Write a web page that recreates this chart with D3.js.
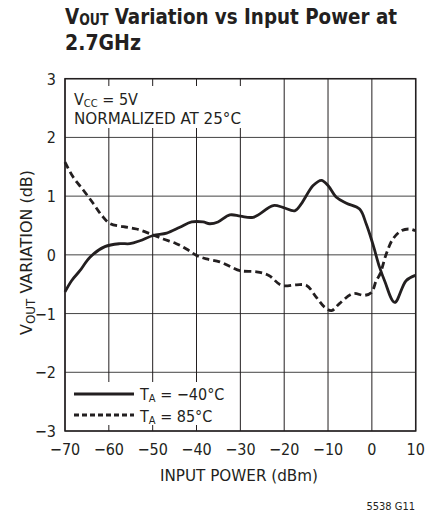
<!DOCTYPE html>
<html>
<head>
<meta charset="utf-8">
<script src="https://cdn.jsdelivr.net/npm/d3@7"></script>
<style>
  body { margin: 0; background: #fff; }
  svg text { font-family: "Liberation Sans Narrow", "DejaVu Sans Condensed", "Liberation Sans", sans-serif; fill: #231f20; }
</style>
</head>
<body>
<svg id="chart" width="425" height="518"></svg>
<script>
// tick labels
var xTicks = [-70, -60, -50, -40, -30, -20, -10, 0, 10];
var yTicks = [-3, -2, -1, 0, 1, 2, 3];

// TA = -40°C (solid)
var coldPower = [-70, -68.5, -66.6, -64.3, -60.9, -57.5, -55.2, -52.9, -49.9, -46.8, -43.8, -41.1, -38.5, -37, -35.1, -32.4, -30, -27.1, -22.5, -20.3, -17.6, -16.1, -13.4, -11.5, -10, -8.1, -5.8, -2.8, -1.3, 0.2, 1.75, 2.9, 5.2, 7.8, 9.9];
var coldVar   = [-0.63, -0.44, -0.27, -0.04, 0.14, 0.19, 0.19, 0.24, 0.33, 0.37, 0.47, 0.56, 0.56, 0.53, 0.56, 0.68, 0.66, 0.64, 0.84, 0.81, 0.75, 0.87, 1.18, 1.27, 1.18, 0.98, 0.88, 0.78, 0.53, 0.19, -0.21, -0.44, -0.81, -0.44, -0.35];

// TA = 85°C (dashed)
var hotPower = [-70, -68.1, -65.8, -63.5, -61.6, -59.7, -56.7, -53.7, -50.6, -47.6, -44.6, -42.3, -40, -37.7, -34.7, -32, -30.1, -26.3, -23.5, -20.6, -17.2, -14.9, -12.7, -10.8, -9.2, -7.4, -4.3, -1.7, -0.1, 1.0, 1.9, 3.3, 4.8, 6.7, 8.6, 9.9];
var hotVar   = [1.58, 1.32, 1.10, 0.87, 0.67, 0.53, 0.48, 0.44, 0.36, 0.27, 0.19, 0.10, -0.01, -0.07, -0.12, -0.21, -0.27, -0.29, -0.35, -0.52, -0.51, -0.52, -0.72, -0.89, -0.95, -0.83, -0.66, -0.69, -0.64, -0.44, -0.32, 0.02, 0.27, 0.41, 0.44, 0.41];

var svg = d3.select("#chart");
var plotL = 65, plotR = 415.7, plotT = 78.7, plotB = 431;
var ink = "#231f20";

var x = d3.scaleLinear().domain([-70, 10]).range([plotL, plotR]);
var y = d3.scaleLinear().domain([-3, 3]).range([plotB, plotT]);
var fmt = d => d < 0 ? "\u2212" + Math.abs(d) : String(d);

// title
var title = svg.append("text").attr("x", 65).attr("y", 24)
	.attr("font-size", 22).attr("font-weight", "bold")
	.attr("textLength", 332).attr("lengthAdjust", "spacingAndGlyphs");
title.append("tspan").text("V");
title.append("tspan").attr("font-size", 15).attr("dy", 1).text("OUT");
title.append("tspan").attr("dy", -1).text(" Variation vs Input Power at");
svg.append("text").attr("x", 65).attr("y", 49.5)
	.attr("font-size", 22).attr("font-weight", "bold")
	.attr("textLength", 76).attr("lengthAdjust", "spacingAndGlyphs")
	.text("2.7GHz");

// grid
svg.append("g").selectAll("line").data(yTicks).join("line")
	.attr("x1", plotL).attr("x2", plotR)
	.attr("y1", d => y(d)).attr("y2", d => y(d))
	.attr("stroke", "#444").attr("stroke-width", 1);
svg.append("g").selectAll("line").data(xTicks).join("line")
	.attr("x1", d => x(d)).attr("x2", d => x(d))
	.attr("y1", plotT).attr("y2", plotB)
	.attr("stroke", ink).attr("stroke-width", 1);

// white boxes behind annotation text
svg.append("rect").attr("x", plotL + 1).attr("y", 86).attr("width", 176).attr("height", 42).attr("fill", "#fff");
svg.append("rect").attr("x", plotL + 1).attr("y", 382).attr("width", 157).attr("height", 43).attr("fill", "#fff");

// frame
svg.append("rect").attr("x", plotL).attr("y", plotT)
	.attr("width", plotR - plotL).attr("height", plotB - plotT)
	.attr("fill", "none").attr("stroke", ink).attr("stroke-width", 1.5);

// axes labels
svg.append("g").selectAll("text").data(yTicks).join("text")
	.attr("x", 56).attr("y", d => y(d) + 6)
	.attr("text-anchor", "end").attr("font-size", 16)
	.text(fmt);
svg.append("g").selectAll("text").data(xTicks).join("text")
	.attr("x", d => x(d)).attr("y", 455)
	.attr("text-anchor", "middle").attr("font-size", 16)
	.text(fmt);

svg.append("text").attr("x", 160).attr("y", 481)
	.attr("font-size", 16)
	.attr("textLength", 158).attr("lengthAdjust", "spacingAndGlyphs")
	.text("INPUT POWER (dBm)");

var yt = svg.append("text")
	.attr("transform", "translate(32,335) rotate(-90)")
	.attr("font-size", 16)
	.attr("textLength", 165).attr("lengthAdjust", "spacingAndGlyphs");
yt.append("tspan").text("V");
yt.append("tspan").attr("font-size", 12).attr("dy", 3).text("OUT");
yt.append("tspan").attr("dy", -3).text(" VARIATION (dB)");

svg.append("text").attr("x", 415).attr("y", 510)
	.attr("text-anchor", "end").attr("font-size", 11)
	.text("5538 G11");

// annotation
var a1 = svg.append("text").attr("x", 74).attr("y", 104.5).attr("font-size", 16);
a1.append("tspan").text("V");
a1.append("tspan").attr("font-size", 11).attr("dy", 2).text("CC");
a1.append("tspan").attr("dy", -2).text(" = 5V");
svg.append("text").attr("x", 74).attr("y", 124).attr("font-size", 16)
	.attr("textLength", 167).attr("lengthAdjust", "spacingAndGlyphs")
	.text("NORMALIZED AT 25\u00B0C");

// curves
var line = d3.line()
	.x(d => x(d[0])).y(d => y(d[1]))
	.curve(d3.curveCatmullRom.alpha(0.5));

svg.append("path")
	.datum(coldPower.map((p, i) => [p, coldVar[i]]))
	.attr("d", line).attr("fill", "none")
	.attr("stroke", ink).attr("stroke-width", 2.8);
svg.append("path")
	.datum(hotPower.map((p, i) => [p, hotVar[i]]))
	.attr("d", line).attr("fill", "none")
	.attr("stroke", ink).attr("stroke-width", 2.8)
	.attr("stroke-dasharray", "7,4");

// legend
svg.append("line").attr("x1", 74).attr("x2", 134).attr("y1", 394).attr("y2", 394)
	.attr("stroke", ink).attr("stroke-width", 2.8);
svg.append("line").attr("x1", 74).attr("x2", 134).attr("y1", 415).attr("y2", 415)
	.attr("stroke", ink).attr("stroke-width", 2.8).attr("stroke-dasharray", "5,3");
var l1 = svg.append("text").attr("x", 140).attr("y", 400).attr("font-size", 16);
l1.append("tspan").text("T");
l1.append("tspan").attr("font-size", 11).attr("dy", 2).text("A");
l1.append("tspan").attr("dy", -2).text(" = \u221240\u00B0C");
var l2 = svg.append("text").attr("x", 140).attr("y", 421.5).attr("font-size", 16);
l2.append("tspan").text("T");
l2.append("tspan").attr("font-size", 11).attr("dy", 2).text("A");
l2.append("tspan").attr("dy", -2).text(" = 85\u00B0C");
</script>
</body>
</html>
